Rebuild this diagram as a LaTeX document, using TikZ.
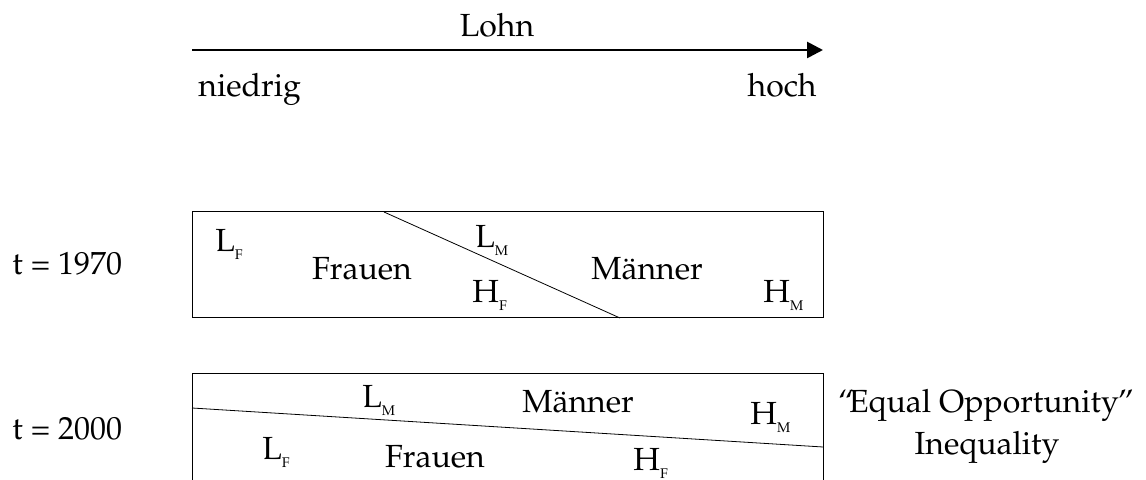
\documentclass[tikz,border=0pt]{standalone}
\usepackage[T1]{fontenc}
\usepackage{mathpazo}
\usepackage{tikz}
\usetikzlibrary{positioning,arrows.meta}

\newcommand{\sub}[1]{\raisebox{-3.6pt}{\fontsize{7}{8}\selectfont #1}}

\begin{document}
\begin{tikzpicture}[x=0.5pt, y=-0.5pt,
    every node/.style={font=\fontsize{16}{19}\selectfont, inner sep=0pt},
    lbl/.style={anchor=base west},
    mid/.style={anchor=base},
    boxline/.style={draw, line width=0.5pt},
    split/.style={draw, line width=0.4pt}]
  \clip (0,0) rectangle (1146,480);

  % Lohn axis
  \coordinate (lo) at (192,50);
  \coordinate (hi) at (823,50);
  \draw[line width=1.35pt, -{Triangle[length=8pt, width=8pt]}] (lo) -- (hi);
  \node[mid] (lohn) at (497,37) {Lohn};
  \node[lbl] (niedrig) at (198,97) {niedrig};
  \node[anchor=base east] (hoch) at (817,97) {hoch};

  % t = 1970
  \node[lbl] (t1970) at (12,275) {t = 1970};
  \draw[boxline] (192,212) rectangle (823,318);
  \coordinate (s1a) at (384,212);
  \coordinate (s1b) at (620,318);
  \draw[split] (s1a) -- (s1b);
  \node[lbl] (lf1) at (215,252) {L\sub{F}};
  \node[mid] (fr1) at (362,280) {Frauen};
  \node[lbl] (lm1) at (475,248) {L\sub{M}};
  \node[lbl] (hf1) at (472,303) {H\sub{F}};
  \node[mid] (mn1) at (647,280) {M\"anner};
  \node[lbl] (hm1) at (763,303) {H\sub{M}};

  % t = 2000
  \node[lbl] (t2000) at (12,440) {t = 2000};
  \draw[boxline] (192,374) rectangle (823,482);
  \coordinate (s2a) at (192,408);
  \coordinate (s2b) at (823,447);
  \draw[split] (s2a) -- (s2b);
  \node[lbl] (lm2) at (362,408) {L\sub{M}};
  \node[mid] (mn2) at (578,413) {M\"anner};
  \node[lbl] (hm2) at (750,425) {H\sub{M}};
  \node[lbl] (lf2) at (262,460) {L\sub{F}};
  \node[mid] (fr2) at (435,467) {Frauen};
  \node[lbl] (hf2) at (633,471) {H\sub{F}};

  \node[mid] (eqop) at (986,413) {``\kern-2.5pt Equal Opportunity\kern-0.5pt''};
  \node[mid] (ineq) at (987,455) {Inequality};
\end{tikzpicture}
\end{document}
